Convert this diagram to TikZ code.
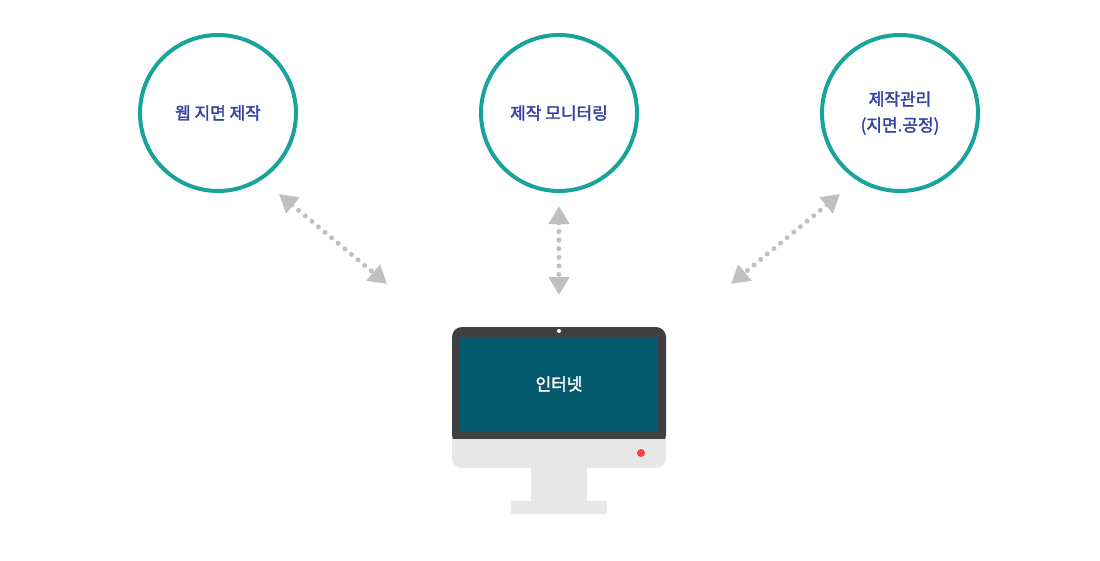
\documentclass[tikz,border=0pt]{standalone}
\usepackage{fontspec}
\newfontfamily\kr{Noto Sans CJK KR}[AutoFakeBold=2]
\usetikzlibrary{arrows.meta}
\definecolor{ringteal}{RGB}{26,163,154}
\definecolor{labelblue}{RGB}{52,68,160}
\definecolor{screenblue}{RGB}{5,90,110}
\definecolor{framegray}{RGB}{64,64,66}
\definecolor{basegray}{RGB}{232,232,232}
\definecolor{dotgray}{RGB}{192,192,192}
\tikzset{
  topic/.style={circle, draw=ringteal, line width=4pt, minimum size=156pt, inner sep=0pt,
    font=\kr\bfseries\fontsize{17}{26}\selectfont, text=labelblue, align=center},
  linkarrow/.style={draw=dotgray, line width=5pt, line cap=round, dash pattern=on 0pt off 8.6pt,
    {Triangle[width=20pt,length=18pt,fill=dotgray]}-{Triangle[width=20pt,length=18pt,fill=dotgray]}}
}
\begin{document}
\begin{tikzpicture}[x=1pt,y=-1pt]
\useasboundingbox (0,0) rectangle (1100,560);
% circles
\node[topic] (web) at (218,113) {웹 지면 제작};
\node[topic] (mon) at (559,113) {제작 모니터링};
\node[topic] (mgmt) at (900,113) {제작관리\\(지면.공정)};
% monitor
\fill[basegray] (511,501) rectangle (607,514);
\fill[basegray] (531,466) rectangle (587,501);
\fill[basegray, rounded corners=10pt] (452,430) rectangle (666,468);
\fill[framegray, rounded corners=10pt] (452,327) rectangle (666,445);
\fill[basegray] (452,439) rectangle (666,450);
\node[fill=screenblue, minimum width=198pt, minimum height=94pt, inner sep=0pt,
  text=white, font=\kr\bfseries\fontsize{17}{20}\selectfont] (net) at (559,384) {인터넷};
\fill[white] (559,331) circle (2pt);
\fill[red!75] (641,453) circle (4pt);
% links
\coordinate (w1) at (279,194);
\coordinate (w2) at (387,284);
\coordinate (m1) at (559,206);
\coordinate (m2) at (559,295);
\coordinate (r1) at (840,194);
\coordinate (r2) at (731,284);
\draw[linkarrow] (w1) -- (w2);
\draw[linkarrow] (m1) -- (m2);
\draw[linkarrow] (r1) -- (r2);
\end{tikzpicture}
\end{document}
